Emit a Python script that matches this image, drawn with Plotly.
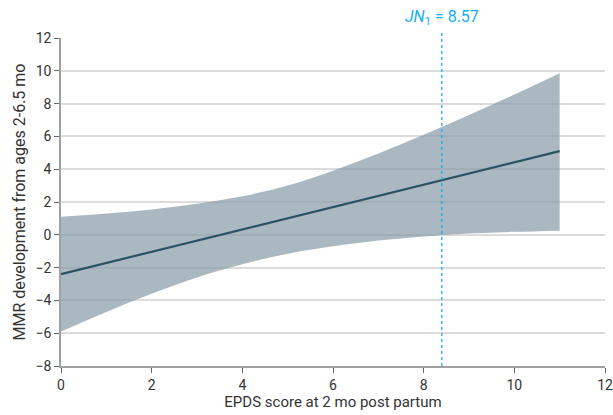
import plotly.graph_objects as go

x_band = [0, 1, 2, 3, 4, 5, 6, 7, 8, 9, 10, 11]
upper = [1.1, 1.3, 1.55, 1.9, 2.35, 3.0, 3.9, 4.95, 6.1, 7.3, 8.55, 9.85]
lower = [-5.9, -4.7, -3.6, -2.6, -1.8, -1.15, -0.7, -0.35, -0.1, 0.08, 0.18, 0.25]
x_line = [0, 11]
y_line = [-2.4, 5.1]
jn_x = 8.4
jn_label = "<i>JN</i><sub>1</sub> = 8.57"
x_ticks = [0, 2, 4, 6, 8, 10, 12]
y_ticks = [-8, -6, -4, -2, 0, 2, 4, 6, 8, 10, 12]

font = "Roboto, sans-serif"

fig = go.Figure()
fig.add_trace(go.Scatter(x=x_band, y=upper, mode="lines", line=dict(width=0, shape="spline"),
                         showlegend=False, hoverinfo="skip"))
fig.add_trace(go.Scatter(x=x_band, y=lower, mode="lines", line=dict(width=0, shape="spline"), fill="tonexty",
                         fillcolor="rgba(135,156,168,0.71)", showlegend=False, hoverinfo="skip"))
fig.add_trace(go.Scatter(x=x_line, y=y_line, mode="lines", line=dict(color="#2b5260", width=2.2), showlegend=False))

fig.add_shape(type="line", xref="x", yref="paper", x0=jn_x, x1=jn_x, y0=0, y1=1.022,
              line=dict(color="#12b0f0", width=1.3, dash="dot"))
fig.add_annotation(x=jn_x, xref="x", y=1.025, yref="paper", yanchor="bottom", text=jn_label,
                   showarrow=False, font=dict(color="#12b0f0", size=16, family=font))

fig.update_layout(
    width=613, height=415,
    margin=dict(l=61, r=8, t=38, b=49),
    plot_bgcolor="white", paper_bgcolor="white",
    font=dict(family=font, size=14, color="#333333"),
    xaxis=dict(range=[0, 12], tickvals=x_ticks, showgrid=False, zeroline=False, automargin=False,
               showline=True, linecolor="#a0a0a0", linewidth=1.5, ticks="outside", ticklen=5,
               tickcolor="#666666",
               title=dict(text="EPDS score at 2 mo post partum", standoff=4, font=dict(size=15))),
    yaxis=dict(range=[-8, 12], tickvals=y_ticks, showgrid=True, gridcolor="#dcdcdc", gridwidth=1.5,
               zeroline=False, showline=True, linecolor="#a0a0a0", linewidth=1.5, ticks="outside",
               ticklen=5, tickcolor="#666666", automargin=False,
               title=dict(text="MMR development from ages 2-6.5 mo", standoff=6, font=dict(size=16))),
)
fig.write_html("out.html", config={"displayModeBar": False},
               post_script="document.body.style.margin='0';")
